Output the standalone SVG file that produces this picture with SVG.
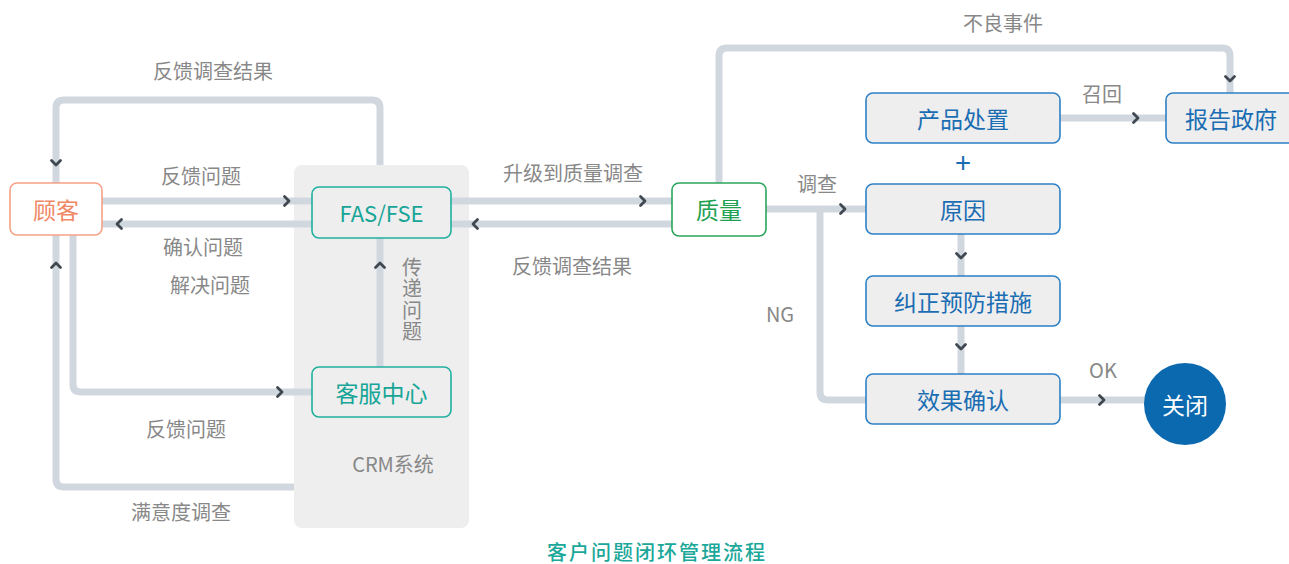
<svg xmlns="http://www.w3.org/2000/svg" xmlns:xlink="http://www.w3.org/1999/xlink" width="1289" height="564" viewBox="0 0 1289 564">
<style>
text{font-family:"Noto Sans CJK SC","Noto Sans",sans-serif;text-anchor:middle;dominant-baseline:central}
.lbl{font-size:20px;fill:#888888}
.ln{fill:none;stroke:#d1d7df;stroke-width:7}
.chev{fill:none;stroke:#3f4750;stroke-width:2.8;stroke-linecap:round;stroke-linejoin:round}
.nt{font-size:23px}
.blue rect{fill:#eeeeee;stroke:#2d80c6;stroke-width:1.6}
.blue text{fill:#1a6db3}
.teal rect{fill:#eeeeee;stroke:#1fb0a0;stroke-width:1.6}
.teal text{fill:#16a596}
</style>
<defs>
<path id="chev" d="M-2.5,-4.5 L2,0 L-2.5,4.5"/>
</defs>
<rect id="crm-panel" x="294" y="165" width="175" height="363" rx="8" fill="#eeeeee"/>
<g id="connectors">
<path class="ln" d="M380,165 V108 Q380,100 372,100 H64 Q56,100 56,108 V183"/>
<path class="ln" d="M102,201 H312"/>
<path class="ln" d="M312,224 H102"/>
<path class="ln" d="M73,235 V384 Q73,392 81,392 H312"/>
<path class="ln" d="M294,487 H64 Q56,487 56,479 V235"/>
<path class="ln" d="M380,367 V238"/>
<path class="ln" d="M451,201 H672"/>
<path class="ln" d="M672,224 H451"/>
<path class="ln" d="M719,183 V56 Q719,48 727,48 H1222 Q1230,48 1230,56 V93"/>
<path class="ln" d="M1060,118 H1166"/>
<path class="ln" d="M766,209 H866"/>
<path class="ln" d="M820,209 V392 Q820,400 828,400 H866"/>
<path class="ln" d="M961,234 V276"/>
<path class="ln" d="M961,326 V374"/>
<path class="ln" d="M1060,400 H1146"/>
<g class="chev">
<use xlink:href="#chev" transform="translate(56,163) rotate(90)"/>
<use xlink:href="#chev" transform="translate(287,201)"/>
<use xlink:href="#chev" transform="translate(119,224) rotate(180)"/>
<use xlink:href="#chev" transform="translate(280,392)"/>
<use xlink:href="#chev" transform="translate(56,265) rotate(-90)"/>
<use xlink:href="#chev" transform="translate(380,265) rotate(-90)"/>
<use xlink:href="#chev" transform="translate(643,201)"/>
<use xlink:href="#chev" transform="translate(475,224) rotate(180)"/>
<use xlink:href="#chev" transform="translate(1230,79) rotate(90)"/>
<use xlink:href="#chev" transform="translate(1136,118)"/>
<use xlink:href="#chev" transform="translate(843,209)"/>
<use xlink:href="#chev" transform="translate(961,256) rotate(90)"/>
<use xlink:href="#chev" transform="translate(961,347) rotate(90)"/>
<use xlink:href="#chev" transform="translate(1102,400)"/>
</g>
</g>
<g id="labels">
<text class="lbl" x="213" y="70">反馈调查结果</text>
<text class="lbl" x="201" y="175">反馈问题</text>
<text class="lbl" x="203" y="246">确认问题</text>
<text class="lbl" x="210" y="284">解决问题</text>
<text class="lbl" x="186" y="428">反馈问题</text>
<text class="lbl" x="181" y="511">满意度调查</text>
<text class="lbl" x="393" y="463">CRM系统</text>
<text class="lbl" x="412" y="300" style="writing-mode:vertical-rl;letter-spacing:1.5px">传递问题</text>
<text class="lbl" x="573" y="172">升级到质量调查</text>
<text class="lbl" x="572" y="265">反馈调查结果</text>
<text class="lbl" x="1003" y="22">不良事件</text>
<text class="lbl" x="1102" y="93">召回</text>
<text class="lbl" x="817" y="183">调查</text>
<text class="lbl" x="780" y="313">NG</text>
<text class="lbl" x="1103" y="369">OK</text>
<text x="963" y="161" style="font-size:28px;fill:#1a6db3">+</text>
</g>
<g id="node-customer">
<rect x="10" y="183" width="92" height="52" rx="7" fill="#ffffff" stroke="#f5a285" stroke-width="1.6"/>
<text class="nt" x="56" y="208.5" fill="#f08866">顾客</text>
</g>
<g id="node-fas" class="teal">
<rect x="312" y="187" width="139" height="51" rx="7"/>
<text class="nt" x="381.5" y="212" style="font-size:22px">FAS/FSE</text>
</g>
<g id="node-service" class="teal">
<rect x="312" y="367" width="139" height="50" rx="7"/>
<text class="nt" x="381.5" y="391.5">客服中心</text>
</g>
<g id="node-quality">
<rect x="672" y="183" width="94" height="53" rx="7" fill="#ffffff" stroke="#2aa55a" stroke-width="1.6"/>
<text class="nt" x="719" y="209" fill="#22a052">质量</text>
</g>
<g id="node-disposal" class="blue">
<rect x="866" y="93" width="194" height="50" rx="7"/>
<text class="nt" x="963" y="117.5">产品处置</text>
</g>
<g id="node-gov" class="blue">
<rect x="1166" y="93" width="130" height="50" rx="7"/>
<text class="nt" x="1231" y="117.5">报告政府</text>
</g>
<g id="node-cause" class="blue">
<rect x="866" y="184" width="194" height="50" rx="7"/>
<text class="nt" x="963" y="208.5">原因</text>
</g>
<g id="node-capa" class="blue">
<rect x="866" y="276" width="194" height="50" rx="7"/>
<text class="nt" x="963" y="300.5">纠正预防措施</text>
</g>
<g id="node-verify" class="blue">
<rect x="866" y="374" width="194" height="50" rx="7"/>
<text class="nt" x="963" y="398.5">效果确认</text>
</g>
<g id="node-close">
<circle cx="1185" cy="404" r="41" fill="#0b69b0"/>
<text class="nt" x="1185" y="403.5" fill="#ffffff">关闭</text>
</g>
<text x="657" y="551" style="font-size:20px;fill:#1ba89a;letter-spacing:2px;font-weight:500">客户问题闭环管理流程</text>
</svg>
